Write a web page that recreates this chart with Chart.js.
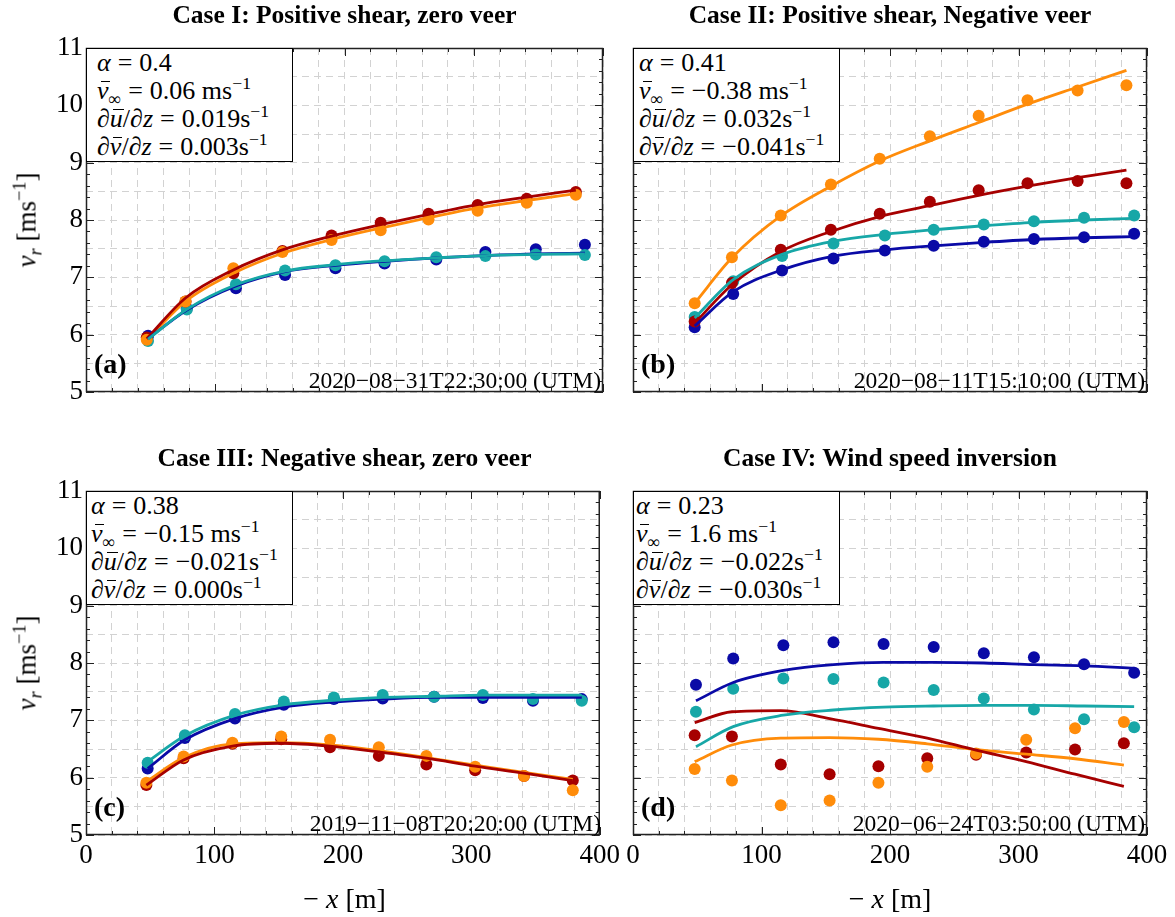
<!DOCTYPE html>
<html>
<head>
<meta charset="utf-8">
<script src="https://cdn.jsdelivr.net/npm/chart.js@4.4.1/dist/chart.umd.min.js"></script>
<style>
  html, body { margin: 0; padding: 0; background: #fff; }
  #fig { position: relative; width: 1175px; height: 917px; overflow: hidden;
         font-family: "Liberation Serif", "Times New Roman", serif; color: #000; }
  #fig canvas { position: absolute; }
  .title { position: absolute; font-weight: bold; font-size: 25.5px; white-space: nowrap;
           transform: translate(-50%, -50%); }
  .box { position: absolute; background: #fff; border: 1px solid #000; box-sizing: border-box;
         width: 207px; height: 114px; font-size: 26px; line-height: 28px; white-space: nowrap;
         padding-top: 0px; }
  .ov { position: relative; }
  .ov::before { content: ''; position: absolute; left: 0.14em; right: -0.04em; top: 0.2em;
                border-top: 1px solid #000; }
  sup, sub { font-size: 0.68em; line-height: 0; }
  .eq { margin: 0 7px; }
  .letter { position: absolute; font-weight: bold; font-size: 28px; transform: translateY(-50%); }
  .date { position: absolute; font-size: 23.5px; white-space: nowrap; transform: translate(-100%, -50%); }
  .ylab { position: absolute; font-size: 27px; white-space: nowrap;
          transform: translate(-50%, -50%) rotate(-90deg); }
  .xlab { position: absolute; font-size: 28px; white-space: nowrap; transform: translate(-50%, -50%); }
</style>
</head>
<body>
<div id="fig"></div>
<script>
// ---- text content ----
const caseTitles = ['Case I: Positive shear, zero veer', 'Case II: Positive shear, Negative veer',
                    'Case III: Negative shear, zero veer', 'Case IV: Wind speed inversion'];
const panelLetters = ['(a)', '(b)', '(c)', '(d)'];
const timeStamps = ['2020\u221208\u221231T22:30:00 (UTM)', '2020\u221208\u221211T15:10:00 (UTM)',
                    '2019\u221211\u221208T20:20:00 (UTM)', '2020\u221206\u221224T03:50:00 (UTM)'];
const alphaVals = ['0.4', '0.41', '0.38', '0.23'];
const vInfVals  = ['0.06', '\u22120.38', '\u22120.15', '1.6'];
const dudzVals  = ['0.019', '0.032', '\u22120.021', '\u22120.022'];
const dvdzVals  = ['0.003', '\u22120.041', '0.000', '\u22120.030'];
const xTickLabels = [0, 100, 200, 300, 400];
const yTickLabels = [5, 6, 7, 8, 9, 10, 11];

// ---- Case I ----
const xI_bc = [48, 78, 116, 154, 193, 231, 271, 309, 348, 386];
const xI_ro = [47, 77, 114, 152, 190, 228, 265, 303, 341, 379];
const ptI_blue   = [5.98, 6.46, 6.81, 7.04, 7.16, 7.24, 7.31, 7.44, 7.49, 7.57];
const ptI_cyan   = [5.89, 6.44, 6.88, 7.12, 7.21, 7.28, 7.35, 7.37, 7.40, 7.39];
const ptI_red    = [5.95, 6.58, 7.07, 7.46, 7.73, 7.95, 8.11, 8.26, 8.37, 8.49];
const ptI_orange = [5.91, 6.58, 7.16, 7.44, 7.65, 7.82, 8.01, 8.16, 8.30, 8.44];
const fitI_blue   = [5.93, 6.43, 6.85, 7.10, 7.21, 7.28, 7.34, 7.38, 7.41, 7.42];
const fitI_cyan   = [5.92, 6.44, 6.87, 7.11, 7.22, 7.29, 7.34, 7.38, 7.40, 7.41];
const fitI_red    = [5.93, 6.64, 7.13, 7.48, 7.72, 7.92, 8.10, 8.27, 8.40, 8.52];
const fitI_orange = [5.90, 6.58, 7.07, 7.42, 7.66, 7.86, 8.04, 8.21, 8.34, 8.46];

// ---- Case II ----
const xII_bc = [48, 78, 116, 156, 196, 234, 273, 312, 351, 390];
const xII_ro = [48, 77, 115, 154, 192, 231, 269, 307, 346, 384];
const ptII_blue   = [6.13, 6.71, 7.12, 7.33, 7.47, 7.55, 7.62, 7.67, 7.70, 7.76];
const ptII_cyan   = [6.31, 6.93, 7.37, 7.59, 7.73, 7.83, 7.92, 7.98, 8.04, 8.08];
const ptII_red    = [6.23, 6.90, 7.48, 7.83, 8.11, 8.32, 8.52, 8.64, 8.68, 8.64];
const ptII_orange = [6.55, 7.35, 8.08, 8.62, 9.07, 9.46, 9.82, 10.09, 10.26, 10.35];
const fitII_blue   = [6.15, 6.75, 7.13, 7.37, 7.48, 7.55, 7.61, 7.66, 7.69, 7.71];
const fitII_cyan   = [6.29, 6.96, 7.40, 7.63, 7.75, 7.83, 7.90, 7.96, 8.00, 8.03];
const fitII_red    = [6.20, 6.87, 7.45, 7.80, 8.06, 8.25, 8.43, 8.59, 8.74, 8.87];
const fitII_orange = [6.55, 7.34, 8.07, 8.59, 9.03, 9.38, 9.70, 10.02, 10.32, 10.61];

// ---- Case III ----
const xIII_bc = [48, 77, 116, 154, 193, 231, 271, 309, 348, 386];
const xIII_ro = [47, 76, 114, 152, 190, 228, 265, 303, 341, 379];
const ptIII_blue   = [6.16, 6.69, 7.03, 7.27, 7.37, 7.38, 7.41, 7.39, 7.34, 7.37];
const ptIII_cyan   = [6.26, 6.74, 7.11, 7.33, 7.40, 7.44, 7.41, 7.44, 7.37, 7.34];
const ptIII_red    = [5.87, 6.34, 6.59, 6.67, 6.53, 6.38, 6.23, 6.13, 6.03, 5.95];
const ptIII_orange = [5.91, 6.37, 6.61, 6.72, 6.66, 6.53, 6.38, 6.19, 6.03, 5.78];
const fitIII_blue   = [6.16, 6.66, 7.03, 7.23, 7.32, 7.37, 7.40, 7.40, 7.40, 7.40];
const fitIII_cyan   = [6.28, 6.73, 7.09, 7.27, 7.35, 7.40, 7.42, 7.44, 7.44, 7.44];
const fitIII_red    = [5.87, 6.31, 6.55, 6.60, 6.55, 6.45, 6.34, 6.20, 6.08, 5.95];
const fitIII_orange = [5.93, 6.35, 6.59, 6.61, 6.57, 6.47, 6.35, 6.22, 6.09, 5.97];

// ---- Case IV ----
const xIV_bc = [49, 78, 117, 156, 195, 234, 273, 312, 351, 390];
const xIV_ro = [48, 77, 115, 153, 191, 229, 267, 306, 344, 382];
const ptIV_blue   = [7.62, 8.08, 8.31, 8.36, 8.33, 8.28, 8.17, 8.10, 7.98, 7.83];
const ptIV_cyan   = [7.15, 7.55, 7.73, 7.72, 7.66, 7.53, 7.38, 7.19, 7.02, 6.88];
const ptIV_red    = [6.74, 6.72, 6.23, 6.06, 6.20, 6.34, 6.40, 6.44, 6.49, 6.60];
const ptIV_orange = [6.15, 5.95, 5.52, 5.60, 5.91, 6.19, 6.42, 6.66, 6.86, 6.97];
const fitIV_blue   = [7.34, 7.66, 7.87, 7.97, 8.01, 8.01, 8.00, 7.97, 7.95, 7.91];
const fitIV_cyan   = [6.54, 6.89, 7.09, 7.18, 7.23, 7.25, 7.26, 7.26, 7.25, 7.24];
const fitIV_red    = [6.96, 7.15, 7.17, 7.03, 6.86, 6.69, 6.48, 6.28, 6.06, 5.85];
const fitIV_orange = [6.28, 6.57, 6.69, 6.70, 6.67, 6.59, 6.49, 6.41, 6.33, 6.22];

// ---- colours ----
const BLUE = '#0a0aa6', CYAN = '#17a7a7', RED = '#a60000', ORANGE = '#ff8c0a';

// ---- panel placement: canvas rectangle and plot area inside it ----
const layouts = [
  { left: 0,   top: 0,   w: 625, h: 420, plot: [86, 48, 603, 392],   xLabels: false, yLabels: true  },
  { left: 615, top: 0,   w: 560, h: 420, plot: [633, 48, 1147, 392], xLabels: false, yLabels: false },
  { left: 0,   top: 420, w: 625, h: 497, plot: [86, 491, 603, 835],  xLabels: true,  yLabels: true  },
  { left: 615, top: 420, w: 560, h: 497, plot: [633, 491, 1147, 835], xLabels: true, yLabels: false }
];
const boxPadLeft = [10, 5, 4, 2];

const panels = [
  { xbc: xI_bc,   xro: xI_ro,   pb: ptI_blue,   pc: ptI_cyan,   pr: ptI_red,   po: ptI_orange,
    fb: fitI_blue,   fc: fitI_cyan,   fr: fitI_red,   fo: fitI_orange },
  { xbc: xII_bc,  xro: xII_ro,  pb: ptII_blue,  pc: ptII_cyan,  pr: ptII_red,  po: ptII_orange,
    fb: fitII_blue,  fc: fitII_cyan,  fr: fitII_red,  fo: fitII_orange },
  { xbc: xIII_bc, xro: xIII_ro, pb: ptIII_blue, pc: ptIII_cyan, pr: ptIII_red, po: ptIII_orange,
    fb: fitIII_blue, fc: fitIII_cyan, fr: fitIII_red, fo: fitIII_orange },
  { xbc: xIV_bc,  xro: xIV_ro,  pb: ptIV_blue,  pc: ptIV_cyan,  pr: ptIV_red,  po: ptIV_orange,
    fb: fitIV_blue,  fc: fitIV_cyan,  fr: fitIV_red,  fo: fitIV_orange }
];

const zip = (xs, ys) => xs.map((x, i) => ({ x: x, y: ys[i] }));

// frame with inward ticks on all four sides
const frameTicks = {
  id: 'frameTicks',
  afterDatasetsDraw(chart) {
    const { ctx, chartArea: a, scales } = chart;
    const sx = scales.x, sy = scales.y;
    ctx.save();
    ctx.strokeStyle = '#222';
    ctx.lineWidth = 1;
    const seg = (x1, y1, x2, y2) => { ctx.beginPath(); ctx.moveTo(x1, y1); ctx.lineTo(x2, y2); ctx.stroke(); };
    for (let k = 0; k <= 20; k++) {
      const px = Math.round(sx.getPixelForValue(k * 20)) + 0.5;
      const len = (k % 5 === 0) ? 8 : 4;
      seg(px, a.bottom, px, a.bottom - len);
      seg(px, a.top, px, a.top + len);
    }
    for (let k = 0; k <= 30; k++) {
      const py = Math.round(sy.getPixelForValue(5 + k * 0.2)) + 0.5;
      const len = (k % 5 === 0) ? 8 : 4;
      seg(a.left, py, a.left + len, py);
      seg(a.right, py, a.right - len, py);
    }
    ctx.lineWidth = 1.5;
    ctx.strokeRect(a.left + 0.5, a.top + 0.5, a.right - a.left - 1, a.bottom - a.top - 1);
    ctx.restore();
  }
};

const fig = document.getElementById('fig');

function pointSet(data, color) {
  return { data: data, showLine: false, pointRadius: 6, pointHoverRadius: 6,
           pointBorderWidth: 0, backgroundColor: color, borderColor: color };
}
function fitSet(data, color) {
  return { data: data, showLine: true, pointRadius: 0, pointHoverRadius: 0, borderWidth: 2.8,
           borderColor: color, backgroundColor: color, cubicInterpolationMode: 'monotone', fill: false };
}

panels.forEach((p, i) => {
  const L = layouts[i];
  const cv = document.createElement('canvas');
  cv.width = L.w; cv.height = L.h;
  cv.style.left = L.left + 'px'; cv.style.top = L.top + 'px';
  cv.style.width = L.w + 'px'; cv.style.height = L.h + 'px';
  fig.appendChild(cv);

  const [pl, pt, pr, pb] = L.plot;
  const yW = pl - L.left;
  const padTop = pt - L.top;
  const padRight = L.left + L.w - pr;
  const xH = L.top + L.h - pb;

  new Chart(cv, {
    type: 'scatter',
    data: {
      datasets: [
        fitSet(zip(p.xbc, p.fc), CYAN),
        fitSet(zip(p.xbc, p.fb), BLUE),
        fitSet(zip(p.xro, p.fr), RED),
        fitSet(zip(p.xro, p.fo), ORANGE),
        pointSet(zip(p.xro, p.po), ORANGE),
        pointSet(zip(p.xro, p.pr), RED),
        pointSet(zip(p.xbc, p.pc), CYAN),
        pointSet(zip(p.xbc, p.pb), BLUE)
      ]
    },
    options: {
      responsive: false, maintainAspectRatio: false, devicePixelRatio: 1,
      animation: false, events: [],
      layout: { padding: { left: 0, top: padTop, right: padRight, bottom: 0 } },
      plugins: { legend: { display: false }, tooltip: { enabled: false } },
      scales: {
        x: {
          type: 'linear', min: 0, max: 400,
          afterFit: s => { s.height = xH; },
          grid: { color: '#d2d2d2', lineWidth: 1, drawTicks: false },
          border: { display: false, dash: [7, 5] },
          ticks: {
            display: L.xLabels, stepSize: 20, autoSkip: false, maxRotation: 0, padding: 5,
            color: '#000', font: { family: 'Liberation Serif', size: 27 },
            callback: v => xTickLabels.includes(v) ? String(v) : ''
          }
        },
        y: {
          type: 'linear', min: 5, max: 11,
          afterFit: s => { s.width = yW; },
          grid: { color: '#d2d2d2', lineWidth: 1, drawTicks: false },
          border: { display: false, dash: [7, 5] },
          ticks: {
            display: L.yLabels, stepSize: 0.5, autoSkip: false, padding: 3,
            color: '#000', font: { family: 'Liberation Serif', size: 27 },
            callback: v => yTickLabels.includes(v) ? String(v) : ''
          }
        }
      }
    },
    plugins: [frameTicks]
  });

  const cx = (pl + pr) / 2;

  const t = document.createElement('div');
  t.className = 'title';
  t.textContent = caseTitles[i];
  t.style.left = cx + 'px'; t.style.top = (pt - 33) + 'px';
  fig.appendChild(t);

  const box = document.createElement('div');
  box.className = 'box';
  box.style.left = pl + 'px'; box.style.top = pt + 'px';
  box.style.paddingLeft = boxPadLeft[i] + 'px';
  box.innerHTML =
    '<div><i>\u03b1</i><span class="eq">=</span>' + alphaVals[i] + '</div>' +
    '<div><i class="ov">v</i><sub>\u221e</sub><span class="eq">=</span>' + vInfVals[i] + ' ms<sup>\u22121</sup></div>' +
    '<div>\u2202<i class="ov">u</i>/\u2202<i>z</i><span class="eq">=</span>' + dudzVals[i] + 's<sup>\u22121</sup></div>' +
    '<div>\u2202<i class="ov">v</i>/\u2202<i>z</i><span class="eq">=</span>' + dvdzVals[i] + 's<sup>\u22121</sup></div>';
  fig.appendChild(box);

  const lt = document.createElement('div');
  lt.className = 'letter';
  lt.textContent = panelLetters[i];
  lt.style.left = (pl + 8) + 'px'; lt.style.top = (pb - 28) + 'px';
  fig.appendChild(lt);

  const d = document.createElement('div');
  d.className = 'date';
  d.textContent = timeStamps[i];
  d.style.left = (pr - 2) + 'px'; d.style.top = (pb - 12) + 'px';
  fig.appendChild(d);

  if (L.yLabels) {
    const yl = document.createElement('div');
    yl.className = 'ylab';
    yl.innerHTML = '<i>v</i><sub><i>r</i></sub> [ms<sup>\u22121</sup>]';
    yl.style.left = '27px'; yl.style.top = ((pt + pb) / 2) + 'px';
    fig.appendChild(yl);
  }
  if (L.xLabels) {
    const xl = document.createElement('div');
    xl.className = 'xlab';
    xl.innerHTML = '\u2212 <i>x</i> [m]';
    xl.style.left = cx + 'px'; xl.style.top = '899px';
    fig.appendChild(xl);
  }
});
</script>
</body>
</html>
